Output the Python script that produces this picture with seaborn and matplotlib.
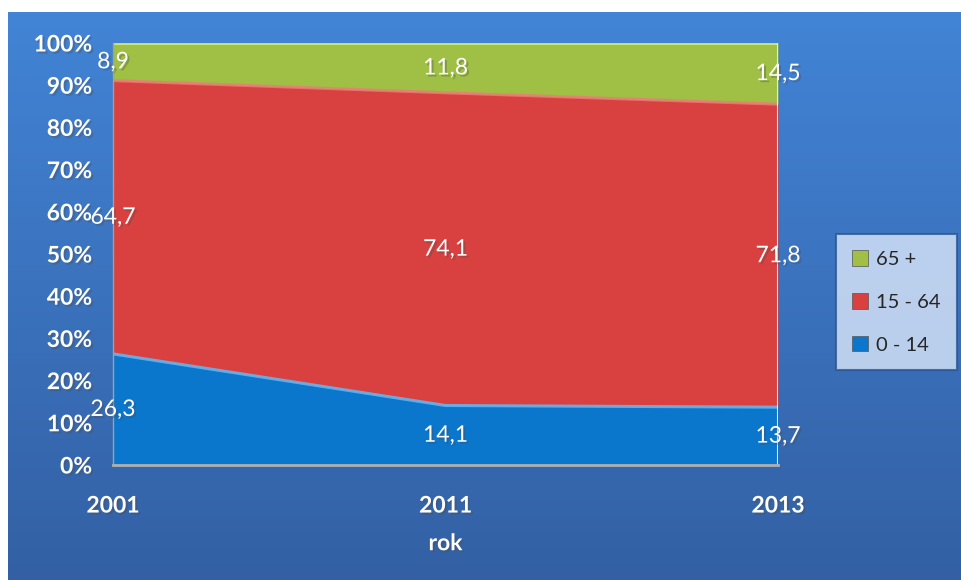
import numpy as np
import seaborn as sns
import matplotlib.pyplot as plt
import matplotlib.patheffects as pe
from matplotlib.patches import Patch

sns.set_style('white')
plt.rcParams['font.family'] = ['Lato', 'DejaVu Sans']

# dane
years = ['2001', '2011', '2013']
age_0_14 = [26.3, 14.1, 13.7]
age_15_64 = [64.7, 74.1, 71.8]
age_65 = [8.9, 11.8, 14.5]
series_names = ['0 - 14', '15 - 64', '65 +']
colors = ['#0a76cc', '#d8413f', '#9fbf45']
edge_colors = ['#5fc0ff', '#f07a78', '#d4ef80']

fig = plt.figure(figsize=(9.62, 5.80), dpi=100)

# tlo z gradientem
bg = fig.add_axes([8 / 962, 0, 1 - 8 / 962, 1 - 12 / 580])
grad = np.linspace(0, 1, 256).reshape(-1, 1)
top = np.array([0x42, 0x84, 0xd6]) / 255
bot = np.array([0x33, 0x60, 0xa4]) / 255
img = top + (bot - top) * grad[..., None]
bg.imshow(img, aspect='auto', extent=[0, 1, 0, 1])
bg.set_axis_off()

ax = fig.add_axes([113 / 962, 1 - 465 / 580, (778 - 113) / 962, (465 - 43) / 580])
ax.patch.set_alpha(0)

x = np.arange(len(years))
data = np.array([age_0_14, age_15_64, age_65])
totals = data.sum(axis=0)
pct = data / totals * 100

ax.stackplot(x, pct, colors=colors, linewidth=0)
cum = np.cumsum(pct, axis=0)
for i in range(3):
    ax.plot(x, cum[i], color=edge_colors[i], lw=2.2, alpha=0.8)
ax.axvline(2, color='#dde6f2', lw=1.5)

shadow = [pe.withSimplePatchShadow(offset=(1.5, -1.5), alpha=0.35)]
vals = [age_0_14, age_15_64, age_65]
for i in range(3):
    for j in range(len(years)):
        mid = cum[i][j] - pct[i][j] / 2
        ax.text(x[j], mid, f'{vals[i][j]:.1f}'.replace('.', ','), color='white',
                fontsize=16.5, ha='center', va='center', path_effects=shadow)

ax.set_xlim(0, 2)
ax.set_ylim(0, 100)
ax.set_xticks(x)
ax.set_xticklabels(years)
ax.set_yticks(range(0, 101, 10))
ax.set_yticklabels([f'{v}%' for v in range(0, 101, 10)])
ax.tick_params(axis='both', colors='#a0a0a0', labelcolor='white', labelsize=16.5,
               length=9, width=1)
ax.tick_params(axis='x', pad=13)
ax.tick_params(axis='y', pad=6)
for lab in ax.get_xticklabels() + ax.get_yticklabels():
    lab.set_fontweight('bold')
    lab.set_path_effects(shadow)
ax.set_xlabel('rok', color='white', fontsize=16.5, fontweight='bold', labelpad=12,
              path_effects=shadow)
for s in ['top', 'right']:
    ax.spines[s].set_visible(False)
ax.spines['bottom'].set_color('#b0b0b0')
ax.spines['bottom'].set_linewidth(2)
ax.spines['left'].set_color('#a0a0a0')
ax.spines['left'].set_linewidth(1)

handles = [Patch(facecolor=colors[i], edgecolor='#555555', lw=0.5) for i in [2, 1, 0]]
leg = fig.legend(handles, [series_names[i] for i in [2, 1, 0]], loc='center left',
                 bbox_to_anchor=(836 / 962, 1 - 302 / 580), fontsize=14.5,
                 frameon=True, fancybox=False, labelspacing=1.25,
                 handlelength=0.8, handleheight=0.8, handletextpad=0.4,
                 borderpad=0.8, borderaxespad=0)
leg.get_frame().set_facecolor('#dce8fa')
leg.get_frame().set_edgecolor('#2a5590')
leg.get_frame().set_linewidth(1.5)

fig.savefig('out.png', dpi=100)
